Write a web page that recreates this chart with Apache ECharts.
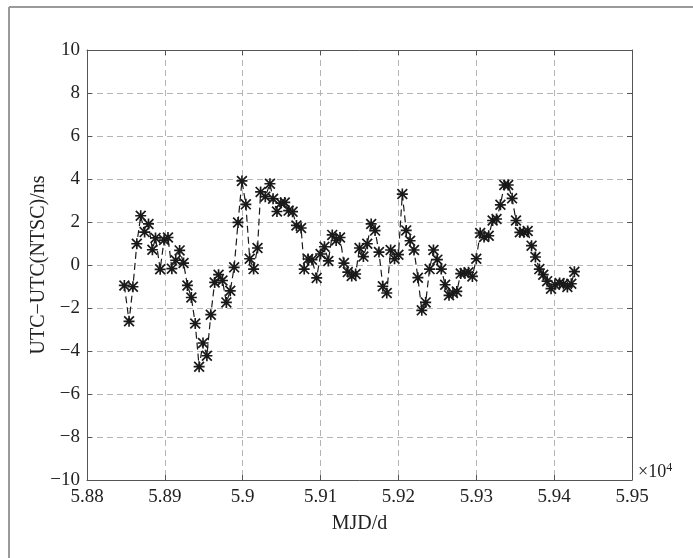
<!DOCTYPE html>
<html>
<head>
<meta charset="utf-8">
<script src="https://cdn.jsdelivr.net/npm/echarts@6/dist/echarts.min.js"></script>
<style>
  html, body { margin: 0; padding: 0; background: #fff; }
  #chart { width: 693px; height: 558px; }
</style>
</head>
<body>
<div id="chart"></div>
<script>
// MJD (days) and UTC-UTC(NTSC) offset (ns)
const mjd = [
  58848, 58854, 58859, 58864, 58869, 58874, 58879, 58884, 58888, 58894,
  58899, 58904, 58909, 58914, 58919, 58924, 58929, 58934, 58939, 58944,
  58949, 58954, 58959, 58964, 58969, 58974, 58979, 58984, 58989, 58994,
  58999, 59004, 59009, 59014, 59019, 59023, 59029, 59035, 59039, 59044,
  59049, 59054, 59059, 59064, 59069, 59075, 59079, 59084, 59089, 59095,
  59100, 59105, 59110, 59115, 59120, 59125, 59130, 59135, 59140, 59145,
  59150, 59155, 59160, 59165, 59170, 59175, 59180, 59185, 59190, 59195,
  59200, 59205, 59210, 59215, 59220, 59225, 59230, 59235, 59240, 59245,
  59250, 59255, 59260, 59265, 59270, 59275, 59280, 59285, 59290, 59295,
  59300, 59305, 59310, 59316, 59321, 59326, 59331, 59336, 59341, 59346,
  59351, 59356, 59361, 59366, 59371, 59376, 59381, 59386, 59391, 59396,
  59401, 59407, 59412, 59417, 59422, 59426
];
const offset = [
  -0.95, -2.62, -1.01, 0.99, 2.29, 1.53, 1.91, 0.71, 1.26, -0.20,
  1.16, 1.28, -0.17, 0.22, 0.68, 0.09, -0.95, -1.51, -2.72, -4.73,
  -3.63, -4.22, -2.31, -0.81, -0.45, -0.72, -1.74, -1.20, -0.11, 1.98,
  3.91, 2.82, 0.29, -0.19, 0.79, 3.40, 3.18, 3.78, 3.08, 2.49,
  2.88, 2.91, 2.53, 2.48, 1.84, 1.72, -0.19, 0.28, 0.25, -0.60,
  0.51, 0.85, 0.19, 1.40, 1.14, 1.28, 0.09, -0.33, -0.51, -0.42,
  0.79, 0.39, 0.99, 1.91, 1.60, 0.60, -0.99, -1.30, 0.70, 0.29,
  0.48, 3.30, 1.61, 1.13, 0.70, -0.59, -2.11, -1.74, -0.19, 0.70,
  0.25, -0.19, -0.92, -1.41, -1.30, -1.23, -0.40, -0.37, -0.34, -0.53,
  0.29, 1.49, 1.30, 1.36, 2.07, 2.14, 2.80, 3.72, 3.72, 3.10,
  2.07, 1.52, 1.52, 1.58, 0.90, 0.37, -0.19, -0.45, -0.75, -1.10,
  -0.92, -0.84, -0.88, -1.02, -0.87, -0.31
];

const font = 'Liberation Serif';
const axisColor = '#555';
const gridColor = '#b4b4b4';

// MATLAB style asterisk marker (8 arms)
const asterisk = 'path://M8.5,0L11.5,0L11.5,20L8.5,20Z M0,8.5L20,8.5L20,11.5L0,11.5Z ' +
  'M2.2,0L20,17.8L17.8,20L0,2.2Z M17.8,0L20,2.2L2.2,20L0,17.8Z';

const minus = (v) => (v < 0 ? '\u2212' + (-v) : String(v));

const chart = echarts.init(document.getElementById('chart'));

const option = {
  animation: false,
  backgroundColor: '#fff',
  grid: { left: 87, top: 50, right: 61, bottom: 78 },
  graphic: [
    { type: 'line', shape: { x1: 9, y1: 7, x2: 693, y2: 7 }, style: { stroke: '#9a9a9a', lineWidth: 2 } },
    { type: 'line', shape: { x1: 9, y1: 7, x2: 9, y2: 558 }, style: { stroke: '#9a9a9a', lineWidth: 2 } },
    {
      type: 'text',
      left: 638,
      top: 462,
      style: {
        text: '{a|×10}{b|4}',
        rich: {
          a: { fontFamily: font, fontSize: 18, fill: '#222' },
          b: { fontFamily: font, fontSize: 12, fill: '#222', verticalAlign: 'top', padding: [0, 0, 8, 0] },
        },
      },
    },
  ],
  xAxis: [
    {
      type: 'value',
      position: 'bottom',
      min: 58800,
      max: 59500,
      interval: 100,
      name: 'MJD/d',
      nameLocation: 'middle',
      nameGap: 34,
      nameMoveOverlap: false,
      nameTextStyle: { fontFamily: font, fontSize: 20, color: '#222' },
      axisLine: { show: true, onZero: false, lineStyle: { color: axisColor, width: 1 } },
      axisTick: { show: true, inside: true, length: 5, lineStyle: { color: axisColor } },
      axisLabel: {
        margin: 8,
        fontFamily: font,
        fontSize: 19,
        color: '#222',
        formatter: (v) => String(+(v / 10000).toFixed(3)),
      },
      splitLine: { show: true, lineStyle: { color: gridColor, type: [6, 4], width: 1 } },
    },
    {
      type: 'value',
      position: 'top',
      min: 58800,
      max: 59500,
      interval: 100,
      axisLine: { show: true, onZero: false, lineStyle: { color: axisColor, width: 1 } },
      axisTick: { show: true, inside: true, length: 5, lineStyle: { color: axisColor } },
      axisLabel: { show: false },
      splitLine: { show: false },
    },
  ],
  yAxis: [
    {
      type: 'value',
      position: 'left',
      min: -10,
      max: 10,
      interval: 2,
      name: 'UTC\u2212UTC(NTSC)/ns',
      nameLocation: 'middle',
      nameGap: 38,
      nameRotate: 90,
      nameMoveOverlap: false,
      nameTextStyle: { fontFamily: font, fontSize: 20, color: '#222' },
      axisLine: { show: true, onZero: false, lineStyle: { color: axisColor, width: 1 } },
      axisTick: { show: true, inside: true, length: 5, lineStyle: { color: axisColor } },
      axisLabel: { margin: 7, fontFamily: font, fontSize: 19, color: '#222', formatter: minus },
      splitLine: { show: true, lineStyle: { color: gridColor, type: [6, 4], width: 1 } },
    },
    {
      type: 'value',
      position: 'right',
      min: -10,
      max: 10,
      interval: 2,
      axisLine: { show: true, onZero: false, lineStyle: { color: axisColor, width: 1 } },
      axisTick: { show: true, inside: true, length: 5, lineStyle: { color: axisColor } },
      axisLabel: { show: false },
      splitLine: { show: false },
    },
  ],
  series: [
    {
      type: 'line',
      data: mjd.map((d, i) => [d, offset[i]]),
      symbol: asterisk,
      symbolSize: 11,
      showAllSymbol: true,
      itemStyle: { color: '#1a1a1a' },
      lineStyle: { color: '#1a1a1a', width: 1.2, type: [7, 4] },
    },
  ],
};

chart.setOption(option);
</script>
</body>
</html>
